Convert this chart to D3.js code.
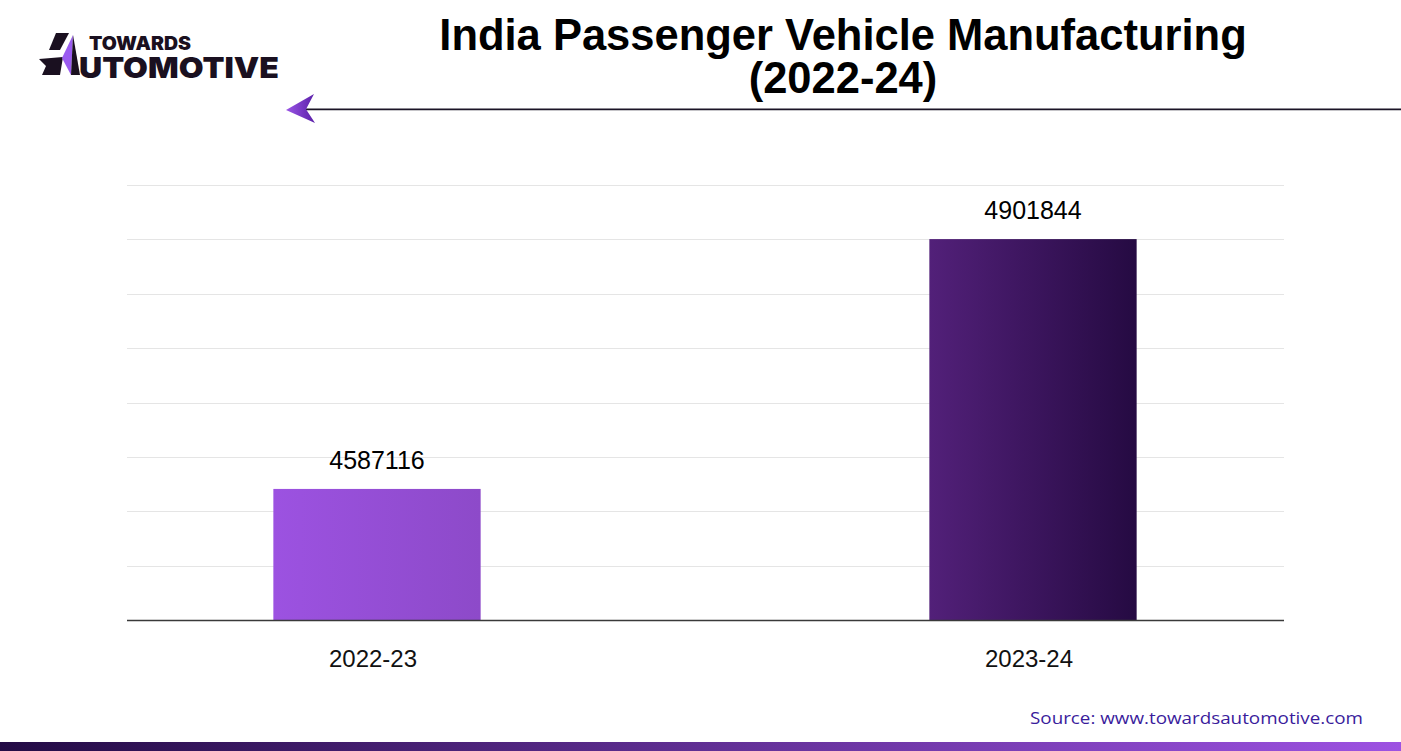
<!DOCTYPE html>
<html>
<head>
<meta charset="utf-8">
<script src="https://cdn.jsdelivr.net/npm/d3@7"></script>
<style>
  html, body { margin: 0; padding: 0; background: #fff; }
  svg { display: block; }
</style>
</head>
<body>
<svg id="chart" width="1401" height="751"></svg>
<script>
const categories = ["2022-23", "2023-24"];
const values = [4587116, 4901844];
const yDomain = [4422000, 4970000];
const gridCount = 8;
const titleLines = ["India Passenger Vehicle Manufacturing", "(2022-24)"];
const sourceText = "Source: www.towardsautomotive.com";

const svg = d3.select("#chart");
const W = 1401, H = 751;
const plot = { left: 127, right: 1284, top: 185, bottom: 620 };

const defs = svg.append("defs");
function grad(id, c1, c2) {
  const g = defs.append("linearGradient").attr("id", id).attr("x1", "0%").attr("x2", "100%").attr("y1", "0%").attr("y2", "0%");
  g.append("stop").attr("offset", "0%").attr("stop-color", c1);
  g.append("stop").attr("offset", "100%").attr("stop-color", c2);
}
grad("bar0", "#9c52e1", "#8d4ac9");
grad("bar1", "#522079", "#250a42");
grad("footer", "#230b45", "#9d52e2");
grad("arrowG", "#9a55e6", "#5a1fa8");

// Title (one text element, two lines)
const title = svg.append("text")
  .attr("text-anchor", "middle")
  .attr("font-family", "Liberation Sans, Arial, sans-serif")
  .attr("font-weight", "bold").attr("font-size", 43.5)
  .attr("fill", "#000");
title.selectAll("tspan").data(titleLines).join("tspan")
  .attr("x", 843).attr("y", (d, i) => 50 + i * 43)
  .text(d => d);

// Header line with arrow
svg.append("line").attr("x1", 305).attr("x2", W).attr("y1", 109.3).attr("y2", 109.3)
  .attr("stroke", "#1b1426").attr("stroke-width", 1.8);
svg.append("path").attr("d", "M286,110 L314,94 L306,109.3 L315,123 Z").attr("fill", "url(#arrowG)");

// Logo
const logo = svg.append("g");
logo.append("path").attr("d", "M56,33 L69,33 L60,50 L49,50 Z").attr("fill", "#1a1020");
logo.append("path").attr("d", "M39,59 L63,57 L60,75 L42,75 L46,66 Z").attr("fill", "#1a1020");
logo.append("path").attr("d", "M73,35 L62,58 L71,75 Z").attr("fill", "#9b5cf0");
logo.append("path").attr("d", "M73,35 L80,75 L71,75 Z").attr("fill", "#1a1020");
const logoText = logo.append("text")
  .attr("font-family", "Inter, Liberation Sans, sans-serif").attr("font-weight", 900)
  .attr("fill", "#1a1020");
logoText.append("tspan").attr("x", 89).attr("y", 50)
  .attr("font-size", 18.5)
  .attr("textLength", 102).attr("lengthAdjust", "spacingAndGlyphs").text("TOWARDS");
logoText.append("tspan").attr("x", 79).attr("y", 78)
  .attr("font-size", 29)
  .attr("textLength", 200).attr("lengthAdjust", "spacingAndGlyphs").text("UTOMOTIVE");

// Scales
const y = d3.scaleLinear().domain(yDomain).range([plot.bottom, plot.top]);
const x = d3.scaleBand().domain(categories).range([49, 1361]).paddingInner(0.684).paddingOuter(0.342);

// Gridlines
const gridVals = d3.range(1, gridCount + 1).map(i => yDomain[0] + (yDomain[1] - yDomain[0]) * i / gridCount);
svg.append("g").selectAll("line").data(gridVals).join("line")
  .attr("x1", plot.left).attr("x2", plot.right)
  .attr("y1", d => Math.round(y(d)) + 0.5).attr("y2", d => Math.round(y(d)) + 0.5)
  .attr("stroke", "#e5e5e5").attr("stroke-width", 1);

// Bars
svg.append("g").selectAll("rect").data(values).join("rect")
  .attr("x", (d, i) => x(categories[i]))
  .attr("width", x.bandwidth())
  .attr("y", d => y(d))
  .attr("height", d => plot.bottom - y(d))
  .attr("fill", (d, i) => `url(#bar${i})`);

// Baseline
svg.append("line").attr("x1", plot.left).attr("x2", plot.right)
  .attr("y1", plot.bottom + 0.5).attr("y2", plot.bottom + 0.5)
  .attr("stroke", "#3a3a3a").attr("stroke-width", 1.3);

// Value labels
svg.append("g").selectAll("text").data(values).join("text")
  .attr("x", (d, i) => x(categories[i]) + x.bandwidth() / 2)
  .attr("y", d => y(d) - 20)
  .attr("text-anchor", "middle")
  .attr("font-family", "Liberation Sans, Arial, sans-serif")
  .attr("font-size", 25).attr("fill", "#000")
  .text(d => d);

// Category axis labels
const xAxis = d3.axisBottom(x).tickSize(0).tickPadding(0);
const ax = svg.append("g").attr("transform", `translate(0,${plot.bottom})`).call(xAxis);
ax.select(".domain").remove();
ax.selectAll("text")
  .attr("dy", 0).attr("y", 47).attr("dx", -4)
  .attr("font-family", "Liberation Sans, Arial, sans-serif")
  .attr("font-size", 24).attr("fill", "#111");

// Source
svg.append("text").attr("x", 1030).attr("y", 724)
  .attr("font-family", "Open Sans, sans-serif").attr("font-weight", 500)
  .attr("font-size", 16.5).attr("fill", "#3a1c9c")
  .attr("textLength", 333).attr("lengthAdjust", "spacingAndGlyphs")
  .text(sourceText);

// Footer bar
svg.append("rect").attr("x", 0).attr("y", 742).attr("width", W).attr("height", 9).attr("fill", "url(#footer)");
</script>
</body>
</html>
